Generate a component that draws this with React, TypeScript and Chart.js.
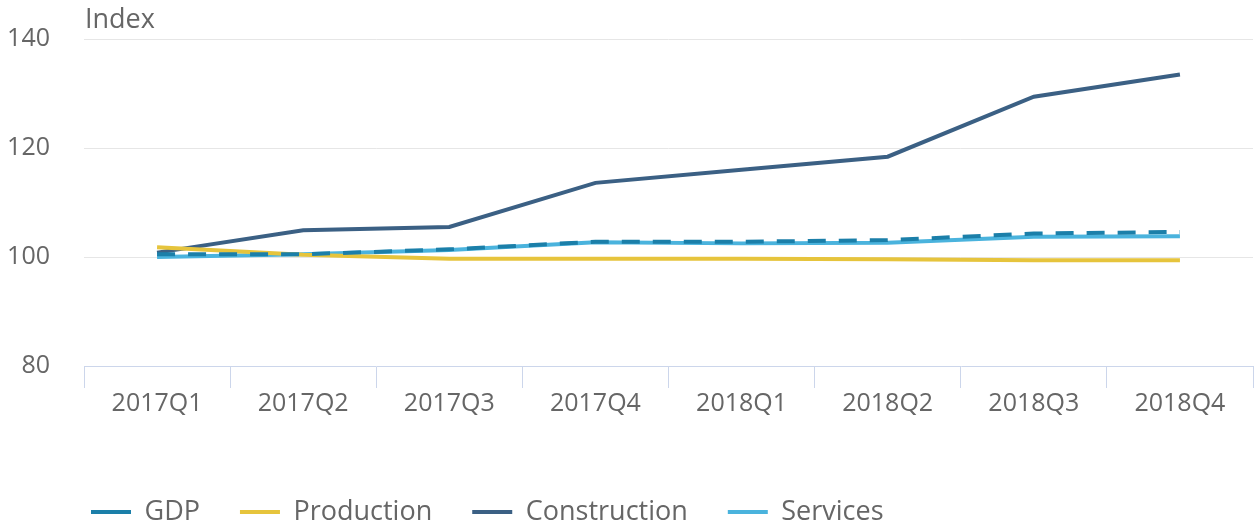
import React, { useEffect, useRef } from "react";
import { Chart, registerables } from "chart.js";

Chart.register(...registerables);

const CATEGORIES = ["2017Q1", "2017Q2", "2017Q3", "2017Q4", "2018Q1", "2018Q2", "2018Q3", "2018Q4"];
const GDP = [100.5, 100.5, 101.4, 102.8, 102.8, 103.1, 104.3, 104.6];
const PRODUCTION = [101.8, 100.4, 99.7, 99.7, 99.7, 99.6, 99.4, 99.4];
const CONSTRUCTION = [100.8, 104.9, 105.5, 113.6, 116.0, 118.4, 129.4, 133.5];
const SERVICES = [100.0, 100.5, 101.3, 102.7, 102.5, 102.6, 103.7, 103.8];
const SERIES_NAMES = ["GDP", "Production", "Construction", "Services"];
const Y_MIN = 80;
const Y_MAX = 140;
const Y_STEP = 20;
const Y_TITLE = "Index";

const FONT = '"Open Sans", "DejaVu Sans", sans-serif';
const TEXT_COLOR = "#666666";

export default function App() {
  const ref = useRef<HTMLCanvasElement | null>(null);

  useEffect(() => {
    document.body.style.margin = "0";
    if (!ref.current) return;
    Chart.defaults.font.family = FONT;
    Chart.defaults.font.size = 25;
    Chart.defaults.color = TEXT_COLOR;

    const titlePlugin = {
      id: "indexTitle",
      afterLayout(chart: any) {
        const lg = chart.legend;
        if (lg) {
          lg.left += 43;
          lg.right += 43;
        }
      },
      afterDraw(chart: any) {
        const ctx = chart.ctx;
        ctx.save();
        ctx.font = `27px ${FONT}`;
        ctx.fillStyle = TEXT_COLOR;
        ctx.textAlign = "left";
        ctx.textBaseline = "middle";
        ctx.fillText(Y_TITLE, chart.chartArea.left + 1, 20);
        ctx.restore();
      },
    };

    const chart = new Chart(ref.current, {
      type: "line",
      data: {
        labels: CATEGORIES,
        datasets: [
          {
            label: SERIES_NAMES[0],
            data: GDP,
            borderColor: "#1b7fa9",
            backgroundColor: "#1b7fa9",
            borderWidth: 4,
            borderDash: [18, 13],
            borderCapStyle: "butt",
            pointRadius: 0,
            tension: 0,
          },
          {
            label: SERIES_NAMES[1],
            data: PRODUCTION,
            borderColor: "#e6c43c",
            backgroundColor: "#e6c43c",
            borderWidth: 4,
            borderCapStyle: "butt",
            pointRadius: 0,
            tension: 0,
          },
          {
            label: SERIES_NAMES[2],
            data: CONSTRUCTION,
            borderColor: "#3b6084",
            backgroundColor: "#3b6084",
            borderWidth: 4,
            borderCapStyle: "butt",
            pointRadius: 0,
            tension: 0,
          },
          {
            label: SERIES_NAMES[3],
            data: SERVICES,
            borderColor: "#4ab3dd",
            backgroundColor: "#4ab3dd",
            borderWidth: 4,
            borderCapStyle: "butt",
            pointRadius: 0,
            tension: 0,
          },
        ],
      },
      options: {
        responsive: false,
        animation: false,
        devicePixelRatio: 1,
        layout: { padding: { top: 39, left: 8, right: 1, bottom: -11.5 } },
        plugins: {
          legend: {
            position: "bottom",
            align: "start",
            labels: {
              usePointStyle: true,
              pointStyle: "line",
              pointStyleWidth: 40,
              padding: 40,
              color: TEXT_COLOR,
              font: { size: 27, family: FONT },
            },
          },
          tooltip: { enabled: false },
          title: { display: false },
        },
        scales: {
          x: {
            offset: true,
            grid: {
              offset: true,
              drawOnChartArea: false,
              drawTicks: true,
              tickLength: 22,
              color: "#ccd6eb",
            },
            border: { display: true, color: "#ccd6eb", width: 1 },
            ticks: { padding: 1, color: TEXT_COLOR, font: { size: 25 }, maxRotation: 0 },
            afterFit: (s: any) => {
              s.height = 92.5;
            },
          },
          y: {
            min: Y_MIN,
            max: Y_MAX,
            ticks: { stepSize: Y_STEP, padding: 34, color: TEXT_COLOR, font: { size: 25 } },
            grid: {
              drawTicks: false,
              color: (c: any) => (c.tick && c.tick.value === Y_MIN ? "rgba(0,0,0,0)" : "#e6e6e6"),
            },
            border: { display: false },
            afterFit: (s: any) => {
              s.width = 76;
              s.paddingTop = 0;
              s.paddingBottom = 0;
            },
          },
        },
      },
      plugins: [titlePlugin],
    });
    return () => chart.destroy();
  }, []);

  return (
    <div style={{ width: 1254, height: 524 }}>
      <canvas ref={ref} width={1254} height={524} style={{ display: "block" }} />
    </div>
  );
}
